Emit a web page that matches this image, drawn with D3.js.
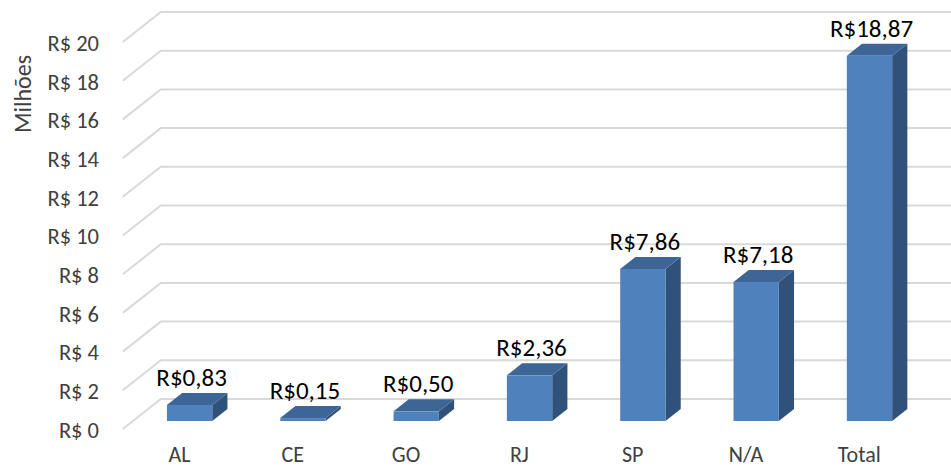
<!DOCTYPE html>
<meta charset="utf-8">
<style>
    body { margin: 0; background: #fff; }
    text { font-family: Carlito, Calibri, Lato, sans-serif; }
    .grid { stroke: #d9d9d9; stroke-width: 2px; fill: none; }
    .tick-label { fill: #404040; font-size: 22.5px; }
    .cat-label { fill: #404040; font-size: 22px; }
    .val-label { fill: #000; font-size: 25px; }
</style>
<body>
<svg width="951" height="469"></svg>
<script src="https://d3js.org/d3.v7.min.js"></script>
<script>

    // data
    var categories = ["AL", "CE", "GO", "RJ", "SP", "N/A", "Total"];
    var values = [0.83, 0.15, 0.50, 2.36, 7.86, 7.18, 18.87];
    var valueLabels = ["R$0,83", "R$0,15", "R$0,50", "R$2,36", "R$7,86", "R$7,18", "R$18,87"];
    var yTicks = [0, 2, 4, 6, 8, 10, 12, 14, 16, 18, 20];

    var svg = d3.select("svg");

    // front edge of the floor
    var x = d3.scaleBand().domain(categories).range([122.8, 916]);
    var y = d3.scaleLinear().domain([0, 20]).range([429, 42]);

    // depth of the 3d box (full depth) and bar slab inside it
    var depth = {dx: 38, dy: -30};
    var barFront = 0.267, barBack = 0.667;
    var barWidth = x.bandwidth() * 0.4;

    function fmtTick(d) { return "R$ " + d; }

    // gridlines: diagonal on the left wall, horizontal on the back wall
    var grid = svg.append("g");
    yTicks.forEach(function(t) {
        var yf = y(t);
        grid.append("path")
            .attr("class", "grid")
            .attr("d", "M" + x.range()[0] + "," + yf +
                "L" + (x.range()[0] + depth.dx) + "," + (yf + depth.dy) +
                "L" + (x.range()[1] + depth.dx) + "," + (yf + depth.dy));
    });

    // tick labels
    svg.append("g").selectAll("text")
        .data(yTicks)
        .enter().append("text")
        .attr("class", "tick-label")
        .attr("x", 99)
        .attr("y", function(d) { return y(d) + 1; })
        .attr("dy", "0.35em")
        .attr("text-anchor", "end")
        .text(fmtTick);

    // axis title
    svg.append("text")
        .attr("class", "tick-label")
        .attr("transform", "translate(31,94) rotate(-90)")
        .attr("text-anchor", "middle")
        .style("font-size", "24px")
        .text("Milhões");

    // category labels
    svg.append("g").selectAll("text")
        .data(categories)
        .enter().append("text")
        .attr("class", "cat-label")
        .attr("x", function(d) { return x(d) + x.bandwidth() / 2; })
        .attr("y", 462)
        .attr("text-anchor", "middle")
        .text(function(d) { return d; });

    // bars
    var bars = svg.append("g").selectAll("g")
        .data(categories)
        .enter().append("g");

    function pt(px, py) { return px + "," + py; }

    bars.each(function(d, i) {
        var g = d3.select(this);
        var v = values[i];
        var x0 = x(d) + (x.bandwidth() - barWidth) / 2 + depth.dx * barFront;
        var x1 = x0 + barWidth;
        var yb = y(0) + depth.dy * barFront;
        var yt = y(v) + depth.dy * barFront;
        var ox = depth.dx * (barBack - barFront);
        var oy = depth.dy * (barBack - barFront);

        // side
        g.append("polygon")
            .attr("points", [pt(x1, yt), pt(x1 + ox, yt + oy), pt(x1 + ox, yb + oy), pt(x1, yb)].join(" "))
            .attr("fill", "#30527a");
        // top
        g.append("polygon")
            .attr("points", [pt(x0, yt), pt(x0 + ox, yt + oy), pt(x1 + ox, yt + oy), pt(x1, yt)].join(" "))
            .attr("fill", "#3d6596");
        // front
        g.append("rect")
            .attr("x", x0)
            .attr("y", yt)
            .attr("width", barWidth)
            .attr("height", yb - yt)
            .attr("fill", "#4f81bd");

        g.append("text")
            .attr("class", "val-label")
            .attr("x", (x0 + x1) / 2 + 2)
            .attr("y", yt + oy - 7)
            .attr("text-anchor", "middle")
            .text(valueLabels[i]);
    });

</script>
</body>
